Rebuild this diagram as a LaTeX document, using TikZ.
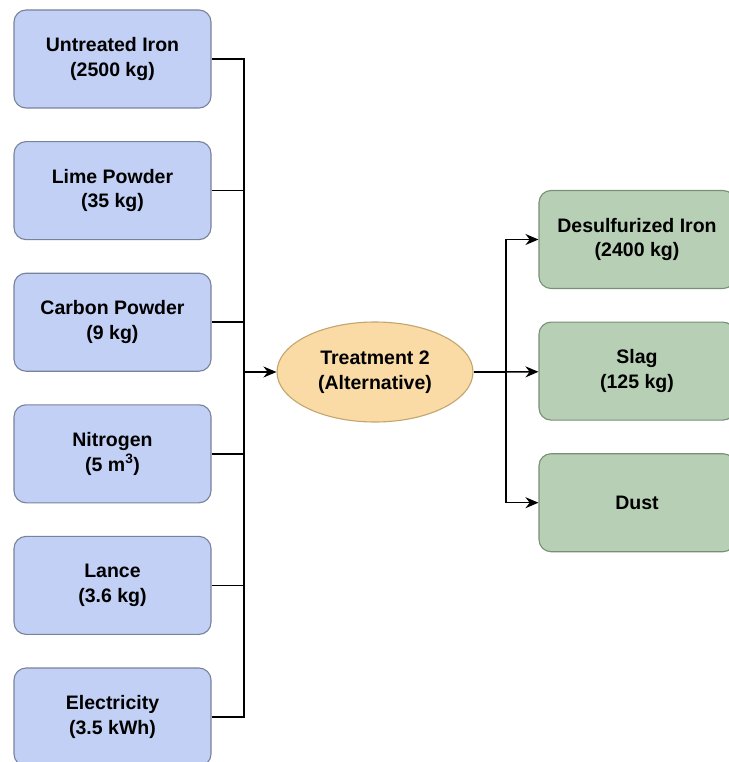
\documentclass[tikz,border=0pt]{standalone}
\usepackage{fontspec}
\setmainfont{Liberation Sans}
\usepackage{tikz}
\usetikzlibrary{arrows.meta, shapes, positioning}

\definecolor{inFill}{RGB}{194,208,245}
\definecolor{inDraw}{RGB}{120,130,155}
\definecolor{outFill}{RGB}{183,207,181}
\definecolor{outDraw}{RGB}{120,145,118}
\definecolor{trFill}{RGB}{250,219,165}
\definecolor{trDraw}{RGB}{195,165,110}

\tikzset{
	inbox/.style={draw=inDraw, fill=inFill, rounded corners=12pt, minimum width=197pt, minimum height=98pt, align=center, font=\bfseries\fontsize{19.5}{24.5}\selectfont, line width=1.1pt},
	outbox/.style={draw=outDraw, fill=outFill, rounded corners=12pt, minimum width=196pt, minimum height=98pt, align=center, font=\bfseries\fontsize{19.5}{24.5}\selectfont, line width=1.1pt},
	proc/.style={ellipse, draw=trDraw, fill=trFill, minimum width=196pt, minimum height=100pt, inner sep=0pt, align=center, font=\bfseries\fontsize{19.5}{24.5}\selectfont, line width=1.1pt},
	flow/.style={line width=1.5pt, -{Stealth[length=13pt, width=11pt]}}
}

\begin{document}
\begin{tikzpicture}[x=1pt, y=-1pt, on grid, node distance = 131.6pt]
		\useasboundingbox (0,0) rectangle (728,762);
		
		% inputs
		\node[inbox] (UI) at (112.5,59) {Untreated Iron\\(2500 kg)};
		\node[inbox, below = of UI] (LP) {Lime Powder\\(35 kg)};
		\node[inbox, below = of LP] (CP) {Carbon Powder\\(9 kg)};
		\node[inbox, below = of CP] (N2) {Nitrogen\\(5 m\textsuperscript{3})};
		\node[inbox, below = of N2] (LA) {Lance\\(3.6 kg)};
		\node[inbox, below = of LA] (EL) {Electricity\\(3.5 kWh)};
		
		\node[proc] (T2) at (375,372) {Treatment 2\\(Alternative)};
		
		% outputs
		\node[outbox] (DI) at (637,239.5) {Desulfurized Iron\\(2400 kg)};
		\node[outbox, below = of DI] (SL) {Slag\\(125 kg)};
		\node[outbox, below = of SL] (DU) {Dust};
		
		\coordinate (busL) at (244,372);
		\coordinate (busR) at (506,372);
		
		\foreach \n in {UI, LP, CP, N2, LA, EL}
		\draw[line width=1.5pt] (\n.east) -| (busL);
		\draw[flow] (busL) -- (T2);
		
		\draw[line width=1.5pt] (T2) -- (busR);
		\draw[flow] (busR) |- (DI);
		\draw[flow] (busR) -- (SL);
		\draw[flow] (busR) |- (DU);
		
		\end{tikzpicture}
\end{document}
